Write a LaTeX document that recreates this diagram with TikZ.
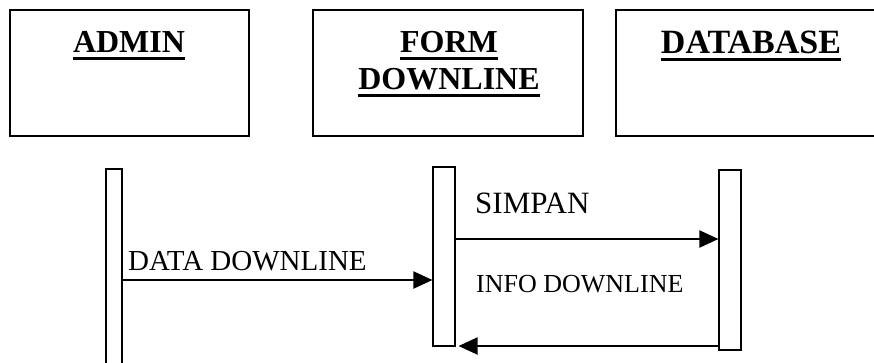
\documentclass[tikz,border=0pt]{standalone}
\usepackage{fontspec}
\setmainfont{Liberation Serif}
\usetikzlibrary{arrows.meta,positioning}

\tikzset{
  objbox/.style={draw,line width=1.3pt,minimum height=126pt,inner sep=0pt},
  bar/.style={draw,line width=1.1pt,inner sep=0pt},
  objtitle/.style={inner sep=0pt,anchor=base,font=\fontsize{32}{36}\selectfont\bfseries},
  msglabel/.style={inner sep=0pt,anchor=base west},
  msg/.style={line width=2pt,-{Triangle[length=19pt,width=17pt]}},
  uline/.style={line width=3pt}
}

\begin{document}
\begin{tikzpicture}[x=1pt,y=-1pt]
\useasboundingbox (0,0) rectangle (874,362);
\clip (0,0) rectangle (874,362);
% object boxes along the top
\node[objbox,minimum width=239pt] (admin) at (129.5,73) {};
\node[objbox,minimum width=270pt] (form) at (448,73) {};
\node[objbox,minimum width=264pt] (db) at (748,73) {};
% titles, underlined
\node[objtitle] (admintitle) at (129,52) {ADMIN};
\node[objtitle] (formtitle) at (449,52) {FORM};
\node[objtitle] (formtitleb) at (449,89) {DOWNLINE};
\node[objtitle,font=\fontsize{34}{38}\selectfont\bfseries] (dbtitle) at (751,53) {DATABASE};
\foreach \t in {admintitle,formtitle,formtitleb,dbtitle}
  \draw[uline] ([yshift=-6pt]\t.base west) -- ([yshift=-6pt]\t.base east);
% activation bars
\node[bar,minimum width=16pt,minimum height=196pt] (adminbar) at (114,267) {};
\node[bar,minimum width=22pt,minimum height=179pt] (formbar) at (444,256.5) {};
\node[bar,minimum width=22pt,minimum height=180pt] (dbbar) at (730,260) {};
% messages
\coordinate (ya) at (0,280);
\coordinate (yb) at (0,239);
\coordinate (yc) at (0,346);
\draw[msg] (adminbar.east |- ya) -- (formbar.west |- ya);
\draw[msg] (formbar.east |- yb) -- (dbbar.west |- yb);
\draw[msg,shorten >=3pt] (dbbar.west |- yc) -- (formbar.east |- yc);
\node[msglabel,font=\fontsize{29}{32}\selectfont] (datalbl) at (128,270) {DATA DOWNLINE};
\node[msglabel,font=\fontsize{31}{34}\selectfont] (simpanlbl) at (475,213) {SIMPAN};
\node[msglabel,font=\fontsize{26}{30}\selectfont] (infolbl) at (476,292) {INFO DOWNLINE};
\end{tikzpicture}
\end{document}
